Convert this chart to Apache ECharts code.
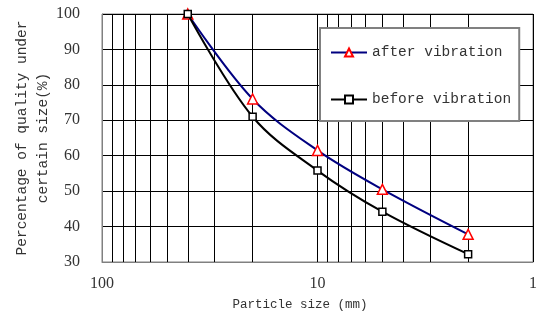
<!DOCTYPE html>
<html>
<head>
<meta charset="utf-8">
<script src="https://cdn.jsdelivr.net/npm/echarts@6/dist/echarts.min.js"></script>
<style>html,body{margin:0;padding:0;background:#fff;}#c{width:537px;height:320px;}</style>
</head>
<body>
<div id="c"></div>
<script>
const particleSizes = [40, 20, 10, 5, 2];
const afterVibration = [100, 76, 61.5, 50.5, 37.8];
const beforeVibration = [100, 71, 55.8, 44.2, 32.2];
const minorGridValues = [20, 30, 40, 50, 60, 70, 80, 90, 2, 3, 4, 5, 6, 7, 8, 9];
const seriesNames = ['after vibration', 'before vibration'];

const mono = 'Liberation Mono';
const serif = 'Liberation Serif';

const chart = echarts.init(document.getElementById('c'), null, {renderer: 'canvas'});
chart.setOption({
  animation: false,
  backgroundColor: '#fff',
  grid: {left: 102, right: 4, top: 14, bottom: 58, containLabel: false, outerBoundsMode: 'none', show: true, borderColor: '#808080', borderWidth: 1, backgroundColor: 'transparent'},
  legend: {
    data: seriesNames,
    orient: 'vertical',
    left: 320, top: 28,
    backgroundColor: '#fff',
    borderColor: '#808080', borderWidth: 2,
    padding: [17, 8, 14, 10],
    itemWidth: 36, itemHeight: 10, itemGap: 32,
    textStyle: {fontFamily: mono, fontSize: 14.5, color: '#333'}
  },
  xAxis: {
    type: 'log', logBase: 10, min: 1, max: 100, inverse: true,
    name: 'Particle size (mm)', nameLocation: 'middle', nameGap: 36, nameMoveOverlap: false,
    nameTextStyle: {fontFamily: mono, fontSize: 12.5, color: '#333', padding: [0, 35, 0, 0]},
    axisLine: {show: true, lineStyle: {color: '#808080', width: 1}},
    axisTick: {show: false},
    axisLabel: {fontFamily: serif, fontSize: 16, color: '#333', margin: 14},
    splitLine: {show: true, lineStyle: {color: '#000', width: 1}}
  },
  yAxis: {
    type: 'value', min: 30, max: 100, interval: 10,
    name: 'Percentage of quality under\ncertain size(%)', nameLocation: 'middle', nameGap: 48, nameMoveOverlap: false,
    nameTextStyle: {fontFamily: mono, fontSize: 14.5, color: '#333', lineHeight: 21, align: 'center'},
    axisLine: {show: true, lineStyle: {color: '#808080', width: 1}},
    axisTick: {show: false},
    axisLabel: {fontFamily: serif, fontSize: 16, color: '#333', margin: 22},
    splitLine: {show: true, lineStyle: {color: '#000', width: 1}}
  },
  series: [
    {
      name: 'grid', type: 'line', data: [], z: 0, silent: true,
      markLine: {
        z: 0, silent: true, symbol: 'none', animation: false,
        label: {show: false},
        lineStyle: {color: '#000', width: 1, type: 'solid'},
        data: minorGridValues.map(v => ({xAxis: v}))
      }
    },
    {
      name: seriesNames[0], type: 'line', smooth: 0.35, z: 3,
      data: particleSizes.map((s, i) => [s, afterVibration[i]]),
      lineStyle: {color: '#000080', width: 2},
      symbol: 'triangle', symbolSize: 10,
      itemStyle: {color: '#fff', borderColor: '#ff0000', borderWidth: 1.5}
    },
    {
      name: seriesNames[1], type: 'line', smooth: 0.35, z: 4,
      data: particleSizes.map((s, i) => [s, beforeVibration[i]]),
      lineStyle: {color: '#000', width: 2},
      symbol: 'rect', symbolSize: 7,
      itemStyle: {color: '#fff', borderColor: '#000', borderWidth: 1.5}
    }
  ]
});
</script>
</body>
</html>
